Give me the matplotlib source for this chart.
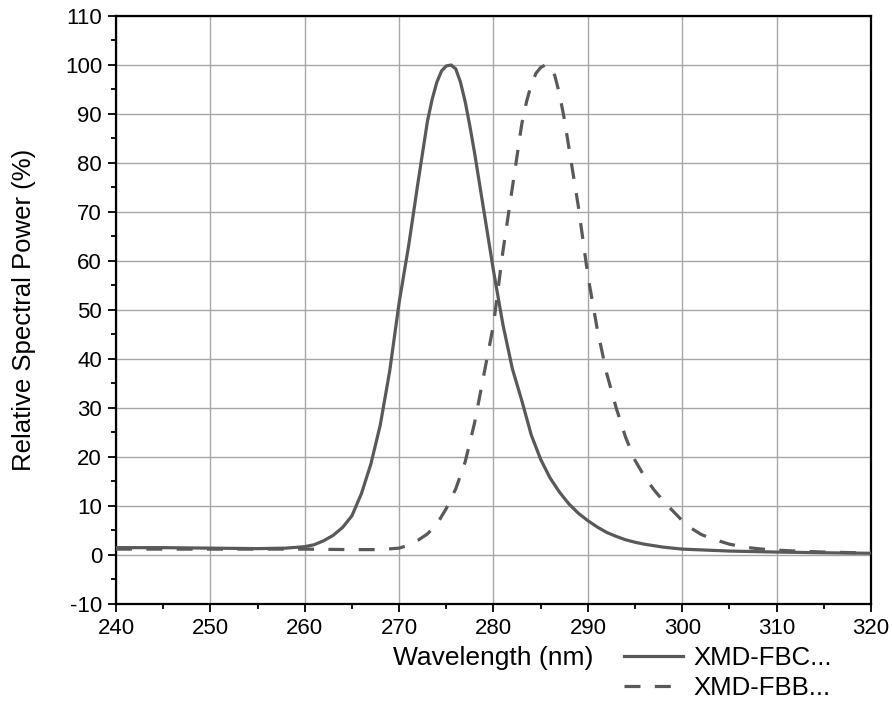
import matplotlib
matplotlib.use("Agg")
import matplotlib.pyplot as plt
from matplotlib.ticker import MultipleLocator

plt.rcParams['font.family'] = ['Liberation Sans', 'DejaVu Sans']
plt.rcParams['axes.unicode_minus'] = False

# Series 1: XMD-FBC... (solid)
wl_fbc = [240, 245, 250, 255, 258, 260, 261, 262, 263, 264, 265, 266, 267, 268, 269,
          270, 271, 272, 273, 273.5, 274, 274.5, 275, 275.5, 276, 276.5, 277, 277.5,
          278, 279, 280, 281, 282, 283,
          284, 285, 286, 287, 288, 289, 290, 291, 292, 293, 294, 295, 296, 298, 300,
          305, 310, 315, 320]
val_fbc = [1.5, 1.5, 1.4, 1.3, 1.4, 1.7, 2.1, 2.9, 4.0, 5.6, 8.0, 12.5, 18.5, 26.5, 37.5,
           51.5, 63, 76, 88.5, 93, 96.5, 98.8, 99.8, 100, 99.2, 96.5, 92.5, 87.5,
           82, 70, 58, 47, 38, 31.5,
           24.5, 19.5, 15.7, 12.8, 10.4, 8.5, 7.0, 5.7, 4.6, 3.8, 3.1, 2.6, 2.2, 1.6, 1.2,
           0.8, 0.6, 0.45, 0.35]

# Series 2: XMD-FBB... (dashed)
wl_fbb = [240, 245, 250, 255, 260, 265, 268, 270, 271, 272, 273, 274, 275, 276, 277,
          278, 279, 280, 281, 282, 283, 283.5, 284, 284.5, 285, 285.5, 286, 286.5, 287,
          287.5, 288, 289, 290, 291,
          292, 293, 294, 295, 296, 297, 298, 299, 300, 301, 302, 303, 304, 305, 307,
          309, 312, 315, 320]
val_fbb = [1.2, 1.2, 1.2, 1.2, 1.2, 1.1, 1.1, 1.4, 2.0, 3.0, 4.3, 6.3, 9.5, 13.5, 19,
           27, 37, 47, 62, 75, 88, 92.5, 96, 98.3, 99.5, 100, 99.8, 97.8, 94,
           89, 83, 71, 57, 46,
           37, 30, 24, 19.3, 16, 13.3, 11, 9, 7, 5.4, 4.2, 3.4, 2.8, 2.2, 1.5,
           1.1, 0.8, 0.6, 0.4]

labels = ["XMD-FBC...", "XMD-FBB..."]
line_color = "#595959"

fig = plt.figure(figsize=(8.92, 7.10), dpi=100)
ax = fig.add_axes([0.130, 0.1493, 0.8465, 0.8282])

ax.plot(wl_fbc, val_fbc, color=line_color, lw=2.3, ls='-', label=labels[0],
        solid_joinstyle='round', zorder=3)
ax.plot(wl_fbb, val_fbb, color=line_color, lw=2.3, ls=(0, (5, 4.5)), label=labels[1],
        zorder=3)

ax.set_xlim(240, 320)
ax.set_ylim(-10, 110)
ax.xaxis.set_major_locator(MultipleLocator(10))
ax.xaxis.set_minor_locator(MultipleLocator(5))
ax.yaxis.set_major_locator(MultipleLocator(10))
ax.yaxis.set_minor_locator(MultipleLocator(5))

ax.grid(True, which='major', color='#a6a6a6', lw=1.0)
ax.set_axisbelow(True)

for s in ax.spines.values():
    s.set_linewidth(1.6)
    s.set_color('black')

ax.tick_params(which='major', direction='out', length=6, width=1.3, labelsize=16,
               top=False, right=False, pad=4)
ax.tick_params(which='minor', direction='out', length=3.5, width=1.3,
               top=False, right=False)

ax.set_xlabel("Wavelength (nm)", fontsize=19)
ax.set_ylabel("Relative Spectral Power (%)", fontsize=18.5)
ax.xaxis.set_label_coords(0.5, -0.071)
ax.yaxis.set_label_coords(-0.106, 0.5)

leg = ax.legend(loc='upper left', bbox_to_anchor=(0.673, -0.071), frameon=False,
                fontsize=18.5, handlelength=2.3, handletextpad=0.4, labelspacing=0.25,
                borderaxespad=0, borderpad=0)

fig.savefig("out.png", dpi=100)
